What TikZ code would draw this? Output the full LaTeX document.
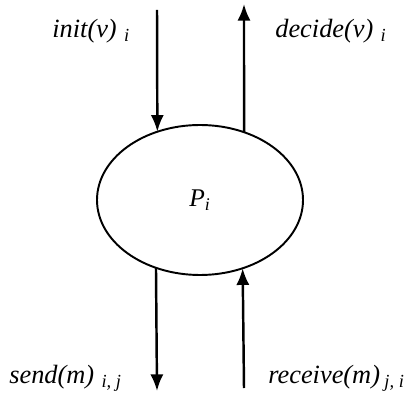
\documentclass[tikz,border=0pt]{standalone}
\usepackage{fontspec}
\setmainfont{Liberation Serif}
\usetikzlibrary{arrows.meta, shapes.geometric, positioning}

\begin{document}
\begin{tikzpicture}[
  x=0.02cm, y=0.02cm,
  proc/.style={draw, ellipse, line width=1.1pt, minimum width=206*0.02cm, minimum height=150*0.02cm, inner sep=0pt, outer sep=0pt},
  arr/.style={-{Latex[length=9.5pt, width=7.5pt]}, line width=1.4pt},
  lbl/.style={font=\fontsize{15}{18}\selectfont\itshape, inner sep=0pt}
]
\useasboundingbox (0,0) rectangle (411,395);

\node[proc] (proc) at (200,195) {\fontsize{14.5}{17}\selectfont\itshape P\textsubscript{i}};

\coordinate (initin) at (157,385);
\coordinate (decout) at (244,391);
\coordinate (sendout) at (157,4);
\coordinate (recvin) at (244,7);

\node[lbl, anchor=west] (initlbl) at (52,364) {init(v)\;\textsubscript{i}};
\node[lbl, anchor=west] (declbl) at (275,364) {decide(v)\;\textsubscript{i}};
\node[lbl, anchor=west] (sendlbl) at (9,17) {send(m)\;\textsubscript{i, j}};
\node[lbl, anchor=west] (recvlbl) at (268,17) {receive(m)\,\textsubscript{j, i}};

\draw[arr] (initin) -- (proc.122.3);
\draw[arr] (proc.57.7) -- (decout);
\draw[arr] (proc.237.7) -- (sendout);
\draw[arr] (recvin) -- (proc.302.3);

\end{tikzpicture}
\end{document}
